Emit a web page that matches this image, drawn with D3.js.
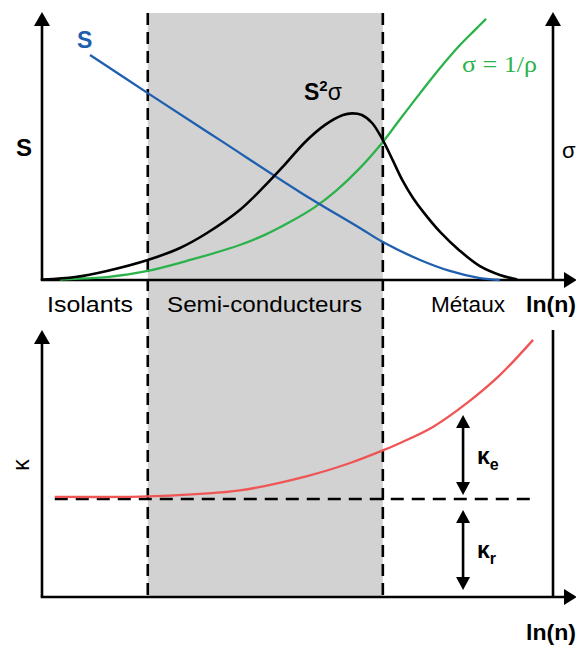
<!DOCTYPE html>
<html><head><meta charset="utf-8">
<script src="https://cdn.jsdelivr.net/npm/d3@7/dist/d3.min.js"></script>
<style>
html,body{margin:0;padding:0;background:#fff;}
svg{display:block;}
text{font-family:"Liberation Sans",Arial,sans-serif;}
</style></head>
<body>
<svg id="c" width="576" height="645"></svg>
<script>
// ---- data ----
const regionLabels = ["Isolants", "Semi-conducteurs", "Métaux"];
const regionBounds = [20.7, 66.7];          // ln(n) limits of semiconductor zone
const sX     = [9.4, 20.7, 35.0, 50.5, 62.2, 66.7, 74.0, 79.8, 85.7, 89.6];
const sY     = [84.3, 70.0, 52.2, 32.9, 19.5, 14.2, 7.5, 3.4, 0.7, 0.0];
const s2sX   = [0.2, 6.5, 12.7, 20.7, 27.0, 32.3, 38.7, 43.2, 47.6, 51.5, 55.4, 58.9, 60.7, 62.6, 64.6, 66.7, 68.7, 70.6, 72.6, 74.6, 77.9, 81.8, 85.7, 89.6, 93.0];
const s2sY   = [0.15, 1.1, 3.4, 7.5, 12.0, 17.6, 26.2, 34.5, 43.4, 51.7, 58.1, 61.8, 62.4, 61.8, 58.8, 52.4, 44.6, 37.1, 30.7, 25.5, 18.0, 10.9, 5.2, 1.9, 0.2];
const sigX   = [3.5, 8.4, 12.7, 20.7, 29.0, 38.7, 43.6, 48.5, 53.4, 57.7, 62.2, 66.7, 70.1, 74.0, 77.9, 81.8, 84.7, 86.9];
const sigY   = [0.15, 0.6, 1.1, 3.4, 7.5, 13.1, 16.9, 21.7, 27.3, 33.7, 41.9, 51.7, 60.3, 70.0, 79.4, 88.0, 93.6, 97.8];
const kapX   = [2.5, 19.2, 30.9, 38.7, 51.9, 60.3, 66.7, 70.1, 76.5, 83.2, 89.6, 96.1];
const kapY   = [37.5, 37.6, 38.6, 39.9, 45.3, 50.2, 54.9, 57.7, 63.7, 72.7, 83.1, 96.3];
const kapLatticeLevel = 36.7;
const kapLatticeRange = [2.5, 96.1];
const kapArrowX = 82.4;
const kapEArrow = [68.2, 38.2];
const kapRArrow = [32.6, 2.6];

// ---- scales ----
const svg = d3.select("#c");
const x = d3.scaleLinear().domain([0, 100]).range([42, 553]);
const yT = d3.scaleLinear().domain([0, 100]).range([280, 13]);
const yB = d3.scaleLinear().domain([0, 100]).range([597, 330]);

const black = "#000";
const gray = "#d2d2d2";

// shaded semiconductor zone
svg.append("rect")
  .attr("x", x(regionBounds[0])).attr("y", yT(100))
  .attr("width", x(regionBounds[1]) - x(regionBounds[0]))
  .attr("height", yB(0) - yT(100))
  .attr("fill", gray);

// dashed boundaries
regionBounds.forEach(b => {
  svg.append("line")
    .attr("x1", x(b)).attr("x2", x(b))
    .attr("y1", yT(100)).attr("y2", yB(0))
    .attr("stroke", black).attr("stroke-width", 2.6)
    .attr("stroke-dasharray", "12,7");
});

// arrowhead helper
function tri(tipX, tipY, dir, len, half) {
  let p;
  if (dir === "up") p = [[tipX, tipY], [tipX - half, tipY + len], [tipX + half, tipY + len]];
  else if (dir === "down") p = [[tipX, tipY], [tipX - half, tipY - len], [tipX + half, tipY - len]];
  else p = [[tipX, tipY], [tipX - len, tipY - half], [tipX - len, tipY + half]];
  svg.append("path").attr("d", "M" + p.map(d => d.join(",")).join("L") + "Z").attr("fill", black);
}
function ln(x1, y1, x2, y2, w) {
  svg.append("line").attr("x1", x1).attr("y1", y1).attr("x2", x2).attr("y2", y2)
    .attr("stroke", black).attr("stroke-width", w || 2.6);
}

// ---- top panel axes ----
ln(x(0), yT(0), x(0), yT(100) + 10);
tri(x(0), yT(100) - 1, "up", 14, 8);
ln(x(100), yT(0), x(100), yT(100) + 10);
tri(x(100), yT(100) - 1, "up", 14, 8);
ln(x(0) - 1.3, yT(0), 566, yT(0));
tri(577, yT(0), "right", 13, 8);

// ---- bottom panel axes ----
ln(x(0), yB(0), x(0), yB(100) + 10);
tri(x(0), yB(100), "up", 14, 8);
ln(x(100), yB(0), x(100), yB(100));
ln(x(0) - 1.3, yB(0), 566, yB(0));
tri(577, yB(0), "right", 13, 8);

// ---- curves ----
const cv = d3.curveCatmullRom.alpha(0.5);
const lineT = d3.line().x(d => x(d[0])).y(d => yT(d[1])).curve(cv);
const lineB = d3.line().x(d => x(d[0])).y(d => yB(d[1])).curve(cv);

svg.append("path").attr("d", lineT(d3.zip(sigX, sigY)))
  .attr("fill", "none").attr("stroke", "#2bb24a").attr("stroke-width", 2.3);
svg.append("path").attr("d", lineT(d3.zip(sX, sY)))
  .attr("fill", "none").attr("stroke", "#1f5fb0").attr("stroke-width", 2.3);
svg.append("path").attr("d", lineT(d3.zip(s2sX, s2sY)))
  .attr("fill", "none").attr("stroke", black).attr("stroke-width", 2.6);

// kappa
svg.append("line")
  .attr("x1", x(kapLatticeRange[0])).attr("x2", x(kapLatticeRange[1]))
  .attr("y1", yB(kapLatticeLevel)).attr("y2", yB(kapLatticeLevel))
  .attr("stroke", black).attr("stroke-width", 2.6).attr("stroke-dasharray", "13,8");
svg.append("path").attr("d", lineB(d3.zip(kapX, kapY)))
  .attr("fill", "none").attr("stroke", "#f05555").attr("stroke-width", 2.3);

// double arrows
[kapEArrow, kapRArrow].forEach(a => {
  const ax = x(kapArrowX);
  ln(ax, yB(a[0]) + 10, ax, yB(a[1]) - 10, 2.6);
  tri(ax, yB(a[0]), "up", 13, 7);
  tri(ax, yB(a[1]), "down", 13, 7);
});

// ---- texts ----
function txt(s, px, py, opts) {
  const o = opts || {};
  const t = svg.append("text").attr("x", px).attr("y", py)
    .attr("font-size", o.size || 22)
    .attr("font-weight", o.bold ? "bold" : "normal")
    .attr("fill", o.fill || black)
    .attr("text-anchor", o.anchor || "start")
    .text(s);
  if (o.family) t.style("font-family", o.family);
  if (o.len) t.attr("textLength", o.len).attr("lengthAdjust", "spacingAndGlyphs");
  return t;
}
// region labels
txt(regionLabels[0], 47, 312, {len: 86});
txt(regionLabels[1], 167, 312, {len: 195});
txt(regionLabels[2], 431, 312, {len: 74});
txt("ln(n)", 526, 312, {bold: true, len: 50});
txt("ln(n)", 526, 640, {bold: true, len: 50});

// axis titles
txt("S", 16, 156, {bold: true, size: 24});
txt("S", 77, 48, {bold: true, size: 23, fill: "#1f5fb0"});
txt("σ", 562, 158, {size: 22});
const s2 = svg.append("text").attr("x", 304).attr("y", 100)
  .attr("font-size", 23).attr("font-weight", "bold").attr("fill", black);
s2.append("tspan").text("S");
s2.append("tspan").attr("dy", -9).attr("font-size", 15).text("2");
s2.append("tspan").attr("dy", 9).attr("font-weight", "normal").attr("font-size", 23).text("σ");

txt("σ = 1/ρ", 462, 72, {size: 24, fill: "#2bb24a", family: "'Liberation Serif', 'Times New Roman', serif", len: 75});

// kappa labels
svg.append("text").attr("transform", "translate(29,465) rotate(-90)")
  .attr("text-anchor", "middle").attr("font-size", 23).text("κ");
const ke = svg.append("text").attr("x", 477).attr("y", 464).attr("font-size", 23).attr("font-weight", "bold");
ke.append("tspan").text("κ");
ke.append("tspan").attr("dy", 6).attr("font-size", 16).text("e");
const kr = svg.append("text").attr("x", 477).attr("y", 558).attr("font-size", 23).attr("font-weight", "bold");
kr.append("tspan").text("κ");
kr.append("tspan").attr("dy", 6).attr("font-size", 16).text("r");
</script>
</body></html>
